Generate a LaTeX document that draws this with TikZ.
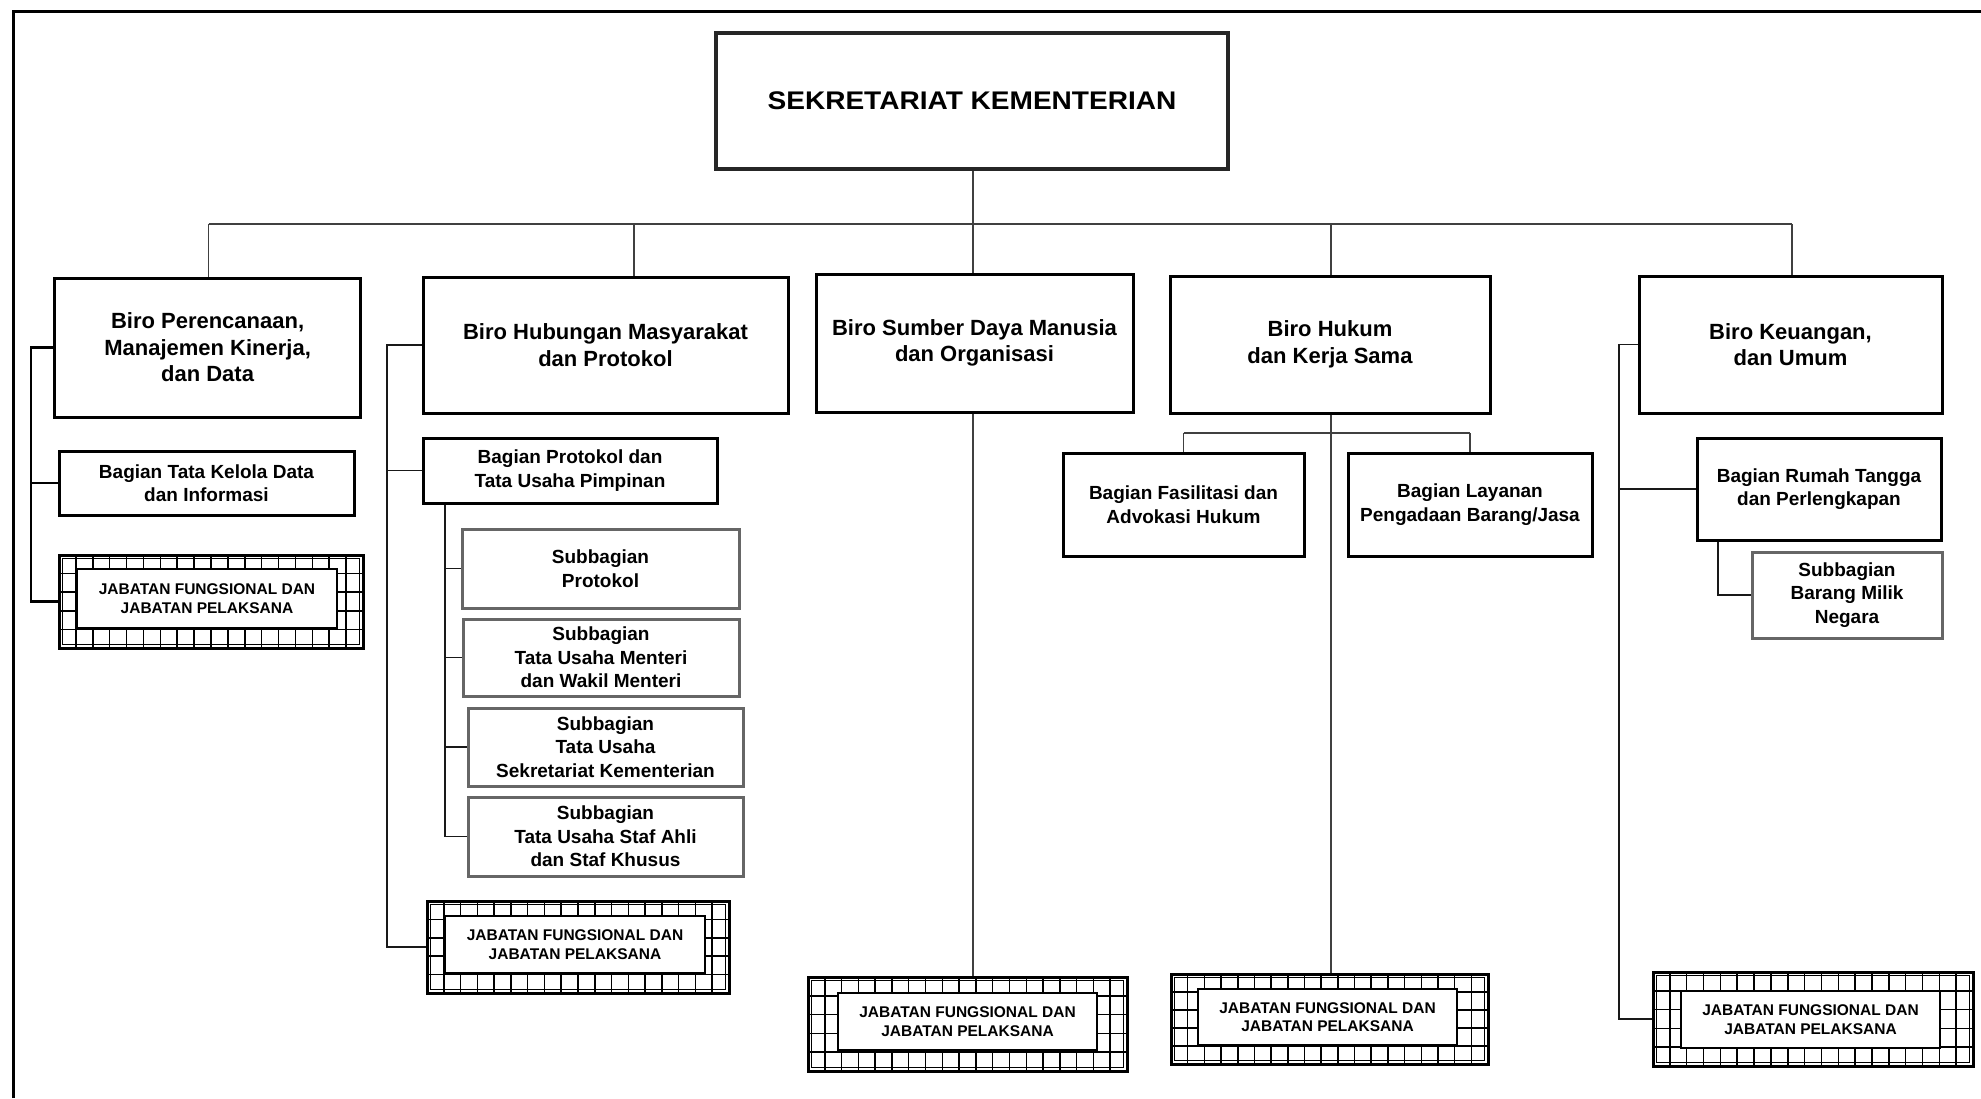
\documentclass[tikz,border=0pt]{standalone}
\usepackage{fontspec}
\setmainfont{Liberation Sans}
\newfontfamily\wideface[FakeStretch=1.1]{Liberation Sans}
\usetikzlibrary{calc}

\tikzset{
  unit/.style={draw, line width=3pt, fill=white, align=center, inner sep=0pt,
    font=\bfseries\fontsize{19}{23.5}\selectfont},
  biro/.style={unit, font=\bfseries\fontsize{22}{26.6}\selectfont},
  bagian/.style={unit},
  subunit/.style={unit, draw=black!60},
  head/.style={unit, line width=4pt, draw=black!85,
    font=\wideface\bfseries\fontsize{25.5}{30}\selectfont},
  link/.style={line width=1.4pt, draw=black!75},
  sidelink/.style={line width=1.6pt, draw=black!90},
  boldlink/.style={line width=2.4pt, draw=black},
  frame/.style={line width=3pt, draw=black},
  jabframe/.style={draw, line width=3pt, fill=white, inner sep=0pt},
  jabgrid/.style={line width=1.5pt, draw=black},
  jabtext/.style={draw, line width=1.4pt, fill=white, align=center, inner sep=0pt,
    font=\bfseries\fontsize{15.5}{18.5}\selectfont},
}

% box given by its corners: style, name, x1, y1, x2, y2, text
\newcommand\unitbox[7]{%
  \node[#1, minimum width={(#5-#3)*1pt}, minimum height={(#6-#4)*1pt}]
    (#2) at ({(#3+#5)/2},{(#4+#6)/2}) {#7};}

% hatched box for functional positions: name, outer corners, inner corners
\newcommand\jabunit[9]{%
  \node[jabframe, minimum width={(#4-#2)*1pt}, minimum height={(#5-#3)*1pt}]
    (#1) at ({(#2+#4)/2},{(#3+#5)/2}) {};
  \begin{scope}
    \clip (#2,#3) rectangle (#4,#5);
    \pgfmathsetmacro\jw{#4-#2}
    \pgfmathsetmacro\jh{#5-#3}
    \pgfmathtruncatemacro\jnx{round(\jw/16.8)}
    \pgfmathtruncatemacro\jny{round(\jh/17.5)}
    \pgfmathtruncatemacro\jnxm{\jnx-1}
    \pgfmathtruncatemacro\jnym{\jny-1}
    \pgfmathsetmacro\jsx{\jw/\jnx}
    \pgfmathsetmacro\jsy{\jh/\jny}
    \foreach \k in {1,...,\jnxm}{\draw[jabgrid] ({#2+\k*\jsx},#3) -- ({#2+\k*\jsx},#5);}
    \foreach \k in {1,...,\jnym}{\draw[jabgrid] (#2,{#3+\k*\jsy}) -- (#4,{#3+\k*\jsy});}
  \end{scope}
  \draw[jabgrid] (#2+3.5,#3+3.5) rectangle (#4-3.5,#5-3.5);
  \draw[line width=3pt] (#2,#3) rectangle (#4,#5);
  \node[jabtext, minimum width={(#8-#6)*1pt}, minimum height={(#9-#7)*1pt}]
    (#1-in) at ({(#6+#8)/2},{(#7+#9)/2}) {JABATAN FUNGSIONAL DAN\\JABATAN PELAKSANA};}

\begin{document}
\begin{tikzpicture}[x=1pt,y=-1pt]
\useasboundingbox (0,0) rectangle (1981,1098);
\fill[white] (0,0) rectangle (1981,1098);

% page frame
\draw[frame] (13.5,1098) -- (13.5,11) -- (1981,11);

% head office
\unitbox{head}{top}{716}{33}{1228}{169}{SEKRETARIAT KEMENTERIAN}

% bureaus
\unitbox{biro}{b1}{54.5}{278}{360.7}{417}{Biro Perencanaan,\\Manajemen Kinerja,\\dan Data}
\unitbox{biro}{b2}{423}{277}{788}{413}{Biro Hubungan Masyarakat\\dan Protokol}
\unitbox{biro}{b3}{816}{274}{1133}{412}{Biro Sumber Daya Manusia\\dan Organisasi}
\unitbox{biro}{b4}{1170}{276}{1490}{413}{Biro Hukum\\dan Kerja Sama}
\unitbox{biro}{b5}{1639}{276}{1942}{413}{Biro Keuangan,\\dan Umum}

% divisions
\unitbox{bagian}{tk}{59}{451}{354}{515}{Bagian Tata Kelola Data\\dan Informasi}
\unitbox{bagian}{bp}{423}{438}{717}{503}{Bagian Protokol dan\\Tata Usaha Pimpinan}
\unitbox{bagian}{fa}{1063}{453}{1304}{556}{Bagian Fasilitasi dan\\Advokasi Hukum}
\unitbox{bagian}{lp}{1348}{453}{1592}{556}{Bagian Layanan\\Pengadaan Barang/Jasa}
\unitbox{bagian}{rt}{1697}{438}{1941}{540}{Bagian Rumah Tangga\\dan Perlengkapan}

% subdivisions
\unitbox{subunit}{s1}{462}{529}{739}{608}{Subbagian\\Protokol}
\unitbox{subunit}{s2}{463}{619}{739}{696}{Subbagian\\Tata Usaha Menteri\\dan Wakil Menteri}
\unitbox{subunit}{s3}{468}{708}{743}{786}{Subbagian\\Tata Usaha\\Sekretariat Kementerian}
\unitbox{subunit}{s4}{468}{797}{743}{876}{Subbagian\\Tata Usaha Staf Ahli\\dan Staf Khusus}
\unitbox{subunit}{bmn}{1752}{552}{1942}{638}{Subbagian\\Barang Milik\\Negara}

% functional positions
\jabunit{j1}{59}{555}{363}{648}{77}{569}{337}{628}
\jabunit{j2}{427}{901}{729}{993}{445}{916}{705}{973}
\jabunit{j3}{808}{977}{1127}{1071}{838}{993}{1097}{1050}
\jabunit{j4}{1171}{974}{1488}{1064}{1198}{989}{1457}{1045}
\jabunit{j5}{1653}{972}{1973}{1066}{1681}{991}{1940}{1048}

% main distribution bar
\coordinate (d1) at (208.5,224);
\coordinate (d2) at (634,224);
\coordinate (d3) at (973,224);
\coordinate (d4) at (1331,224);
\coordinate (d5) at (1792,224);
\draw[link] (top.south -| d3) -- (d3);
\draw[link] (d1) -- (d5);
\foreach \i in {1,...,5}{\draw[link] (d\i) -- (d\i |- b\i.north);}

% Biro Perencanaan column
\coordinate (k1) at (31,0);
\draw[boldlink] (b1.west) -- (b1.west -| k1) -- (k1 |- j1.west) -- (j1.west);
\draw[boldlink] (k1 |- tk.west) -- (tk.west);

% Biro Hubungan Masyarakat column
\coordinate (k2) at (387,0);
\draw[sidelink] (b2.west) -- (b2.west -| k2) -- (k2 |- j2.west) -- (j2.west);
\draw[sidelink] (k2 |- bp.west) -- (bp.west);
\coordinate (k2s) at (445,0);
\draw[sidelink] (k2s |- bp.south) -- (k2s |- s4.west) -- (s4.west);
\foreach \s in {s1,s2,s3}{\draw[sidelink] (k2s |- \s.west) -- (\s.west);}

% Biro Sumber Daya Manusia column
\draw[link] (b3.south -| d3) -- (d3 |- j3.north);

% Biro Hukum column
\coordinate (br4) at (1331,433);
\draw[link] (b4.south -| d4) -- (d4 |- j4.north);
\draw[link] (fa.north |- br4) -- (lp.north |- br4);
\draw[link] (fa.north |- br4) -- (fa.north);
\draw[link] (lp.north |- br4) -- (lp.north);

% Biro Keuangan column
\coordinate (k5) at (1619,0);
\draw[sidelink] (b5.west) -- (b5.west -| k5) -- (k5 |- j5.west) -- (j5.west);
\draw[sidelink] (k5 |- rt.west) -- (rt.west);
\coordinate (k5s) at (1718,0);
\draw[sidelink] (k5s |- rt.south) -- (k5s |- bmn.west) -- (bmn.west);
\end{tikzpicture}
\end{document}
